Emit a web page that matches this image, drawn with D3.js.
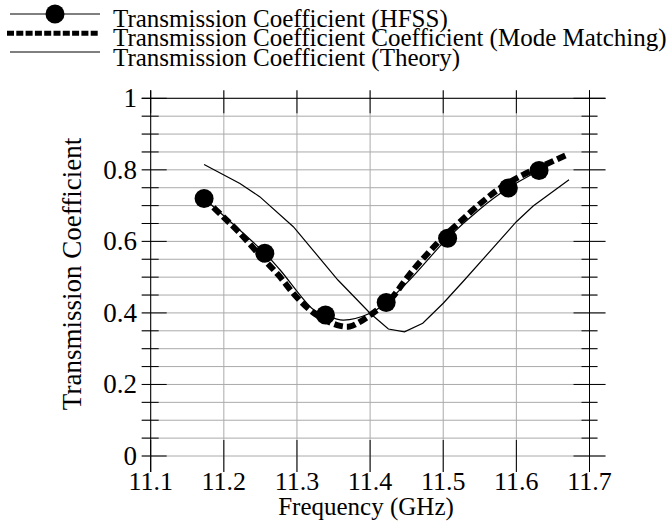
<!DOCTYPE html>
<html>
<head>
<meta charset="utf-8">
<script src="https://cdn.jsdelivr.net/npm/d3@7"></script>
<style>
  body { margin: 0; background: #fff; }
</style>
</head>
<body>
<script>
// ---------- DATA ----------
// HFSS: thin line plus circle markers
var hfssFreq = [11.173, 11.256, 11.277, 11.322, 11.339, 11.363, 11.40, 11.422, 11.454, 11.506, 11.55, 11.589, 11.631];
var hfssVal  = [0.720, 0.567, 0.520, 0.410, 0.394, 0.380, 0.399, 0.429, 0.492, 0.609, 0.690, 0.749, 0.798];
var markFreq = [11.173, 11.256, 11.339, 11.422, 11.506, 11.589, 11.631];
var markVal  = [0.720, 0.567, 0.394, 0.429, 0.609, 0.749, 0.798];

// Mode matching: thick dashed line
var mmFreq = [11.173, 11.20, 11.22, 11.25, 11.275, 11.30, 11.327, 11.355, 11.372, 11.386, 11.40, 11.427, 11.454, 11.48, 11.50, 11.523, 11.552, 11.58, 11.609, 11.64, 11.67];
var mmVal  = [0.720, 0.667, 0.627, 0.560, 0.505, 0.443, 0.394, 0.366, 0.362, 0.375, 0.394, 0.436, 0.508, 0.569, 0.612, 0.655, 0.708, 0.752, 0.786, 0.815, 0.843];

// Theory: thin line
var thFreq = [11.173, 11.222, 11.249, 11.295, 11.356, 11.40, 11.425, 11.447, 11.472, 11.50, 11.529, 11.60, 11.623, 11.672];
var thVal  = [0.815, 0.762, 0.725, 0.641, 0.492, 0.399, 0.355, 0.347, 0.371, 0.427, 0.492, 0.655, 0.699, 0.772];

var xTicks = [11.1, 11.2, 11.3, 11.4, 11.5, 11.6, 11.7];
var yMajor = [0, 0.2, 0.4, 0.6, 0.8, 1];
var yMinor = [0.05, 0.1, 0.15, 0.25, 0.3, 0.35, 0.45, 0.5, 0.55, 0.65, 0.7, 0.75, 0.85, 0.9, 0.95];

var legendLabels = [
  "Transmission Coefficient (HFSS)",
  "Transmission Coefficient Coefficient (Mode Matching)",
  "Transmission Coefficient (Theory)"
];

// ---------- DIMENSIONS ----------
var w = 671, h = 523;
var plotL = 150.7, plotR = 589.5, plotT = 98.3, plotB = 456;
var gridColor = "#aaa";
var serif = "'Liberation Serif', 'Times New Roman', serif";

var x = d3.scaleLinear().domain([11.1, 11.7]).range([plotL, plotR]);
var y = d3.scaleLinear().domain([0, 1]).range([plotB, plotT]);

var svg = d3.select("body").append("svg")
  .attr("width", w)
  .attr("height", h)
  .attr("font-family", serif);

// ---------- GRID ----------
var grid = svg.append("g");

grid.selectAll("line.hmaj")
  .data(yMajor)
  .enter().append("line")
  .attr("x1", plotL - 9).attr("x2", plotR + 16)
  .attr("y1", d => y(d)).attr("y2", d => y(d))
  .attr("stroke", gridColor);

grid.selectAll("line.hmin")
  .data(yMinor)
  .enter().append("line")
  .attr("x1", plotL - 9).attr("x2", plotR + 8)
  .attr("y1", d => y(d)).attr("y2", d => y(d))
  .attr("stroke", gridColor);

grid.selectAll("line.v")
  .data(xTicks)
  .enter().append("line")
  .attr("x1", d => x(d)).attr("x2", d => x(d))
  .attr("y1", plotT - 8).attr("y2", plotB + 16)
  .attr("stroke", gridColor);

// ---------- AXES / TICKS ----------
var ax = svg.append("g").attr("stroke", "#000").attr("stroke-width", 1);

ax.append("line").attr("x1", plotL).attr("x2", plotL).attr("y1", plotT - 8).attr("y2", plotB + 16);
ax.append("line").attr("x1", plotR).attr("x2", plotR).attr("y1", plotT - 8).attr("y2", plotB + 16);
ax.append("line").attr("x1", plotL - 9).attr("x2", plotR + 16).attr("y1", plotT).attr("y2", plotT);

// left / right ticks
yMajor.forEach(function (v) {
  ax.append("line").attr("x1", plotL - 9).attr("x2", plotL + 16).attr("y1", y(v)).attr("y2", y(v));
  ax.append("line").attr("x1", plotR - 16).attr("x2", plotR + 16).attr("y1", y(v)).attr("y2", y(v));
});
yMinor.forEach(function (v) {
  ax.append("line").attr("x1", plotL - 9).attr("x2", plotL + 8).attr("y1", y(v)).attr("y2", y(v));
  ax.append("line").attr("x1", plotR - 8).attr("x2", plotR + 8).attr("y1", y(v)).attr("y2", y(v));
});
// top / bottom ticks
xTicks.forEach(function (v) {
  ax.append("line").attr("x1", x(v)).attr("x2", x(v)).attr("y1", plotT - 8).attr("y2", plotT + 15);
  ax.append("line").attr("x1", x(v)).attr("x2", x(v)).attr("y1", plotB - 16).attr("y2", plotB + 16);
});

// tick labels
svg.selectAll("text.ylab")
  .data(yMajor)
  .enter().append("text")
  .attr("class", "ylab")
  .attr("x", 137)
  .attr("y", d => y(d) + 8.8)
  .attr("text-anchor", "end")
  .attr("font-size", "27px")
  .text(d => String(d));

svg.selectAll("text.xlab")
  .data(xTicks)
  .enter().append("text")
  .attr("class", "xlab")
  .attr("x", d => x(d))
  .attr("y", 490)
  .attr("text-anchor", "middle")
  .attr("font-size", "26px")
  .text(d => d.toFixed(1));

// axis titles
svg.append("text")
  .attr("x", 366).attr("y", 515)
  .attr("text-anchor", "middle")
  .attr("font-size", "25px")
  .text("Frequency (GHz)");

svg.append("text")
  .attr("transform", "translate(81,274) rotate(-90)")
  .attr("text-anchor", "middle")
  .attr("font-size", "27px")
  .text("Transmission Coefficient");

// ---------- SERIES ----------
var lineGen = d3.line().x(d => x(d[0])).y(d => y(d[1]));
var lineSmooth = d3.line().x(d => x(d[0])).y(d => y(d[1])).curve(d3.curveCatmullRom);

svg.append("path")
  .datum(d3.zip(thFreq, thVal))
  .attr("d", lineGen)
  .attr("fill", "none")
  .attr("stroke", "#000")
  .attr("stroke-width", 1.2);

svg.append("path")
  .datum(d3.zip(hfssFreq, hfssVal))
  .attr("d", lineSmooth)
  .attr("fill", "none")
  .attr("stroke", "#000")
  .attr("stroke-width", 1.2);

svg.append("path")
  .datum(d3.zip(mmFreq, mmVal))
  .attr("d", lineSmooth)
  .attr("fill", "none")
  .attr("stroke", "#000")
  .attr("stroke-width", 6)
  .attr("stroke-dasharray", "9,4");

svg.selectAll("circle.mark")
  .data(d3.zip(markFreq, markVal))
  .enter().append("circle")
  .attr("class", "mark")
  .attr("cx", d => x(d[0]))
  .attr("cy", d => y(d[1]))
  .attr("r", 9.5)
  .attr("fill", "#000");

// ---------- LEGEND ----------
var lg = svg.append("g");
var rowY = [14, 33.3, 52];
var textY = [26.5, 46, 65.5];

lg.append("line").attr("x1", 10).attr("x2", 100).attr("y1", rowY[0]).attr("y2", rowY[0])
  .attr("stroke", "#000").attr("stroke-width", 1);
lg.append("circle").attr("cx", 55).attr("cy", rowY[0]).attr("r", 9.5).attr("fill", "#000");

lg.append("line").attr("x1", 7).attr("x2", 100).attr("y1", rowY[1]).attr("y2", rowY[1])
  .attr("stroke", "#000").attr("stroke-width", 5).attr("stroke-dasharray", "7,2.3");

lg.append("line").attr("x1", 10).attr("x2", 100).attr("y1", rowY[2]).attr("y2", rowY[2])
  .attr("stroke", "#000").attr("stroke-width", 1);

lg.selectAll("text")
  .data(legendLabels)
  .enter().append("text")
  .attr("x", 113)
  .attr("y", (d, i) => textY[i])
  .attr("font-size", "25px")
  .text(d => d);
</script>
</body>
</html>
